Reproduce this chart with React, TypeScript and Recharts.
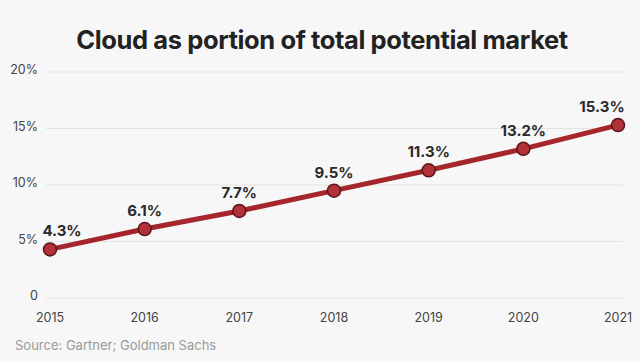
import React from "react";
import { LineChart, Line, XAxis, YAxis, CartesianGrid, LabelList } from "recharts";

const years = ["2015", "2016", "2017", "2018", "2019", "2020", "2021"];
const cloudShare = [4.3, 6.1, 7.7, 9.5, 11.3, 13.2, 15.3];
const yTicks = [0, 5, 10, 15, 20];

const data = years.map((y, i) => ({ year: y, value: cloudShare[i] }));

const FONT = "Inter, 'Noto Sans', sans-serif";

const PointLabel = (props: any) => {
  const { x, y, value, index } = props;
  let dx = 0;
  if (index === 0) dx = 12;
  if (index === years.length - 1) dx = -16;
  return (
    <text
      x={x + dx}
      y={y - 13}
      textAnchor="middle"
      fontFamily={FONT}
      fontWeight={700}
      fontSize={15}
      fill="#2a2a2a"
    >
      {`${value}%`}
    </text>
  );
};

export default function App() {
  return (
    <div
      style={{
        position: "fixed",
        left: 0,
        top: 0,
        width: 640,
        height: 362,
        background: "#f7f7f7",
        fontFamily: FONT,
      }}
    >
      <div
        style={{
          position: "absolute",
          top: 24,
          left: 2,
          width: 640,
          textAlign: "center",
          fontSize: 25.5,
          fontWeight: 700,
          color: "#222",
          letterSpacing: -0.4,
        }}
      >
        Cloud as portion of total potential market
      </div>
      <div style={{ position: "absolute", top: 0, left: 0 }}>
        <LineChart
          width={640}
          height={362}
          data={data}
          margin={{ top: 72, right: 17, bottom: 64 - 30, left: 0 }}
        >
          <CartesianGrid vertical={false} stroke="#e3e3e3" strokeWidth={1} />
          <XAxis
            dataKey="year"
            axisLine={false}
            tickLine={false}
            padding={{ left: 4, right: 5 }}
            tick={{ fill: "#444", fontSize: 12.5, fontFamily: FONT }}
            tickMargin={9}
            height={30}
          />
          <YAxis
            domain={[0, 20]}
            ticks={yTicks}
            axisLine={false}
            tickLine={false}
            width={46}
            tick={{ fill: "#444", fontSize: 12.5, fontFamily: FONT, dy: -2 }}
            tickFormatter={(v: number) => (v === 0 ? "0" : `${v}%`)}
            tickMargin={2}
          />
          <Line
            type="linear"
            dataKey="value"
            stroke="#a5262c"
            strokeWidth={5}
            isAnimationActive={false}
            dot={{ r: 6.5, fill: "#b3323a", stroke: "#5a1518", strokeWidth: 1.5 }}
          >
            <LabelList dataKey="value" content={<PointLabel />} />
          </Line>
        </LineChart>
      </div>
      <div
        style={{
          position: "absolute",
          top: 337,
          left: 15,
          fontSize: 13,
          color: "#9a9a9a",
        }}
      >
        Source: Gartner; Goldman Sachs
      </div>
    </div>
  );
}
